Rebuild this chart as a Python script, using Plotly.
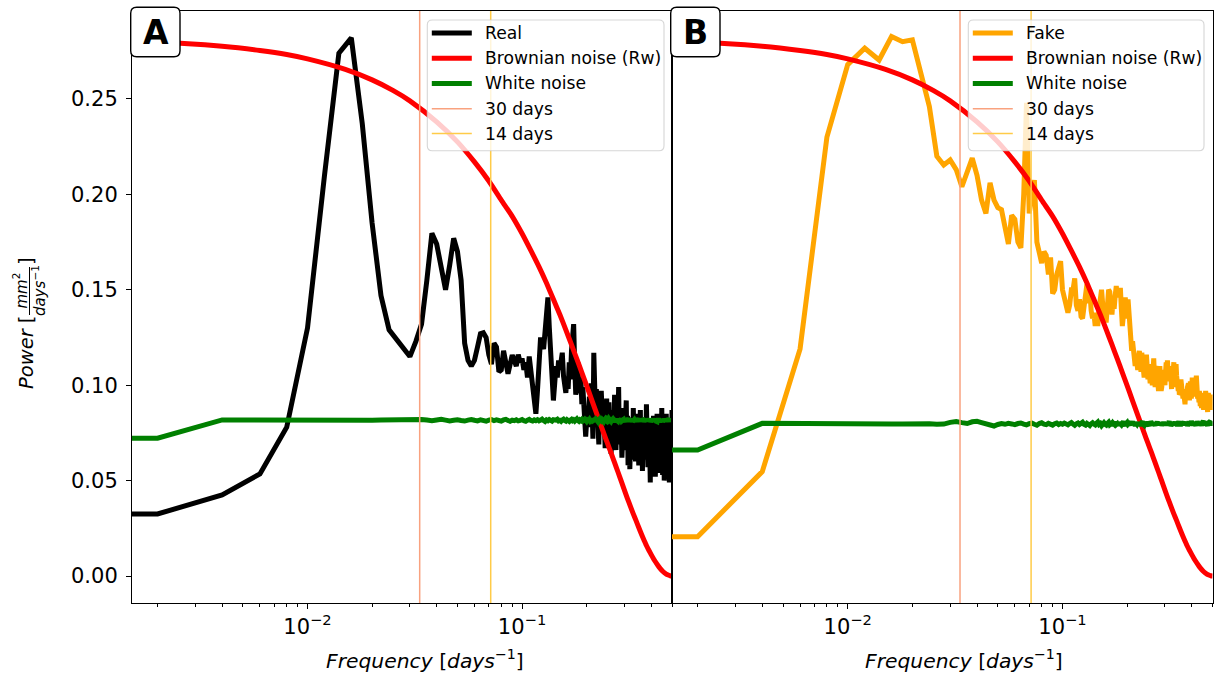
import numpy as np
import plotly.graph_objects as go

W, H = 1214, 678

# ---------------- data ----------------
df = 0.002                      # frequency resolution [1/days]
freq = np.arange(251) * df      # 0 ... 0.5

real = [
    0.0325, 0.0325, 0.0425, 0.0535, 0.0780, 0.1300, 0.2100, 0.2740, 0.2820, 0.2370,
    0.1850, 0.1470, 0.1290, 0.1240, 0.1190, 0.1150, 0.1230, 0.1320, 0.1550, 0.1796,
    0.1740, 0.1600, 0.1500, 0.1630, 0.1770, 0.1700, 0.1550, 0.1220, 0.1130, 0.1100,
    0.1130, 0.1200, 0.1270, 0.1275, 0.1250, 0.1160, 0.1110, 0.1220, 0.1200, 0.1070,
    0.1080, 0.1180, 0.1120, 0.1060, 0.1110, 0.1158, 0.1130, 0.1100, 0.1160, 0.1120,
    0.1140, 0.1080, 0.1120, 0.1040, 0.1150, 0.1070, 0.0980, 0.0900, 0.0850, 0.0970,
    0.1120, 0.1250, 0.1210, 0.1190, 0.1280, 0.1380, 0.1460, 0.1300, 0.1120, 0.0980,
    0.0920, 0.1010, 0.1100, 0.1040, 0.1130, 0.1080, 0.1140, 0.1170, 0.1050, 0.0990,
    0.0960, 0.1040, 0.0980, 0.1120, 0.1030, 0.1180, 0.1250, 0.1320, 0.1100, 0.0950,
    0.1020, 0.1120, 0.0980, 0.0960, 0.1040, 0.0900, 0.0990, 0.0850, 0.0790, 0.0730,
    0.0810, 0.0890, 0.0830, 0.0940, 0.0780, 0.1010, 0.0880, 0.0720, 0.1170, 0.0950,
    0.0840, 0.0980, 0.0790, 0.0880, 0.0690, 0.0930, 0.0800, 0.0970, 0.0860, 0.0750,
    0.0900, 0.0820, 0.0670, 0.0790, 0.0930, 0.0760, 0.0850, 0.0910, 0.0700, 0.0780,
    0.0640, 0.0720, 0.0870, 0.0680, 0.0800, 0.0950, 0.0740, 0.0660, 0.0830, 0.0900,
    0.0820, 0.0990, 0.0710, 0.0850, 0.0690, 0.0770, 0.0620, 0.0810, 0.0700, 0.0880,
    0.0660, 0.0790, 0.0730, 0.0920, 0.0680, 0.0840, 0.0580, 0.0750, 0.0800, 0.0560,
    0.0710, 0.0830, 0.0650, 0.0780, 0.0610, 0.0880, 0.0740, 0.0690, 0.0820, 0.0600,
    0.0720, 0.0850, 0.0670, 0.0760, 0.0680, 0.0580, 0.0790, 0.0710, 0.0870, 0.0620,
    0.0640, 0.0770, 0.0550, 0.0720, 0.0830, 0.0690, 0.0750, 0.0610, 0.0800, 0.0700,
    0.0900, 0.0680, 0.0780, 0.0570, 0.0740, 0.0660, 0.0810, 0.0600, 0.0490, 0.0720,
    0.0630, 0.0790, 0.0580, 0.0700, 0.0660, 0.0840, 0.0810, 0.0620, 0.0730, 0.0520,
    0.0690, 0.0770, 0.0610, 0.0850, 0.0670, 0.0540, 0.0720, 0.0800, 0.0630, 0.0750,
    0.0590, 0.0570, 0.0710, 0.0660, 0.0880, 0.0620, 0.0530, 0.0780, 0.0680, 0.0740,
    0.0500, 0.0760, 0.0640, 0.0700, 0.0820, 0.0850, 0.0610, 0.0550, 0.0730, 0.0670,
    0.0790, 0.0580, 0.0700, 0.0490, 0.0650, 0.0810, 0.0600, 0.0520, 0.0740, 0.0510,
    0.0870,
]

fake = [
    0.0206, 0.0206, 0.0547, 0.1190, 0.2300, 0.2680, 0.2766, 0.2704, 0.2827, 0.2800,
    0.2810, 0.2630, 0.2460, 0.2200, 0.2154, 0.2180, 0.2130, 0.2040, 0.2120, 0.2190,
    0.2100, 0.1970, 0.1900, 0.2060, 0.1970, 0.1930, 0.1920, 0.1830, 0.1740, 0.1890,
    0.1870, 0.1750, 0.1720, 0.2000, 0.2480, 0.1900, 0.1990, 0.2075, 0.1750, 0.1700,
    0.1640, 0.1700, 0.1680, 0.1580, 0.1670, 0.1480, 0.1500, 0.1580, 0.1620, 0.1650,
    0.1500, 0.1450, 0.1400, 0.1380, 0.1420, 0.1500, 0.1500, 0.1560, 0.1420, 0.1390,
    0.1450, 0.1360, 0.1350, 0.1420, 0.1480, 0.1530, 0.1430, 0.1500, 0.1390, 0.1350,
    0.1380, 0.1310, 0.1370, 0.1310, 0.1400, 0.1480, 0.1500, 0.1420, 0.1360, 0.1340,
    0.1340, 0.1460, 0.1500, 0.1490, 0.1410, 0.1370, 0.1450, 0.1400, 0.1470, 0.1520,
    0.1460, 0.1500, 0.1480, 0.1510, 0.1400, 0.1310, 0.1360, 0.1400, 0.1460, 0.1400,
    0.1350, 0.1450, 0.1380, 0.1280, 0.1200, 0.1180, 0.1230, 0.1180, 0.1130, 0.1100,
    0.1160, 0.1120, 0.1080, 0.1150, 0.1180, 0.1120, 0.1070, 0.1170, 0.1130, 0.1080,
    0.1040, 0.1120, 0.1060, 0.1160, 0.1090, 0.1030, 0.1110, 0.1070, 0.1010, 0.1090,
    0.1040, 0.1000, 0.1080, 0.1140, 0.1050, 0.0990, 0.1100, 0.1030, 0.1070, 0.1010,
    0.0970, 0.1040, 0.1100, 0.1020, 0.0970, 0.0990, 0.1060, 0.1010, 0.1080, 0.1030,
    0.1000, 0.1070, 0.1120, 0.1050, 0.1130, 0.1080, 0.1020, 0.1100, 0.1040, 0.1090,
    0.1030, 0.0980, 0.1060, 0.1010, 0.1080, 0.1120, 0.1040, 0.0990, 0.1070, 0.1110,
    0.1050, 0.1000, 0.1040, 0.0970, 0.1020, 0.0950, 0.1010, 0.0960, 0.1030, 0.0980,
    0.0940, 0.0990, 0.0930, 0.0970, 0.0910, 0.0950, 0.0900, 0.0960, 0.0920, 0.0980,
    0.0940, 0.0990, 0.0950, 0.1010, 0.0960, 0.0920, 0.0980, 0.1020, 0.0970, 0.0930,
    0.1000, 0.1040, 0.0980, 0.0940, 0.1010, 0.0970, 0.1030, 0.0990, 0.0950, 0.1020,
    0.1050, 0.1000, 0.0960, 0.0930, 0.0990, 0.0940, 0.0910, 0.0970, 0.0930, 0.0890,
    0.0950, 0.0920, 0.0880, 0.0940, 0.0900, 0.0960, 0.0920, 0.0870, 0.0930, 0.0950,
    0.0890, 0.0910, 0.0970, 0.0930, 0.0880, 0.0940, 0.0900, 0.0860, 0.0920, 0.0960,
    0.0910, 0.0880, 0.0940, 0.0890, 0.0930, 0.0870, 0.0910, 0.0950, 0.0890, 0.0920,
    0.0880,
]

white_a = [
    0.0722, 0.0722, 0.0818, 0.0816, 0.0815, 0.0816, 0.0816, 0.0817, 0.0816, 0.0815,
    0.0816, 0.0817, 0.0818, 0.0816, 0.0815, 0.0819, 0.0823, 0.0820, 0.0817, 0.0814,
    0.0818, 0.0821, 0.0817, 0.0813, 0.0816, 0.0819, 0.0815, 0.0812, 0.0817, 0.0820,
    0.0816, 0.0813, 0.0818, 0.0815, 0.0811, 0.0817, 0.0820, 0.0814, 0.0818, 0.0815,
    0.0812, 0.0818, 0.0821, 0.0815, 0.0811, 0.0817, 0.0814, 0.0819, 0.0813, 0.0816,
    0.0820, 0.0814, 0.0811, 0.0817, 0.0821, 0.0815, 0.0812, 0.0818, 0.0814, 0.0819,
    0.0813, 0.0817, 0.0822, 0.0815, 0.0810, 0.0818, 0.0814, 0.0820, 0.0816, 0.0812,
    0.0819, 0.0814, 0.0817, 0.0821, 0.0813, 0.0816, 0.0811, 0.0818, 0.0822, 0.0815,
    0.0812, 0.0819, 0.0815, 0.0810, 0.0817, 0.0821, 0.0814, 0.0818, 0.0812, 0.0816,
    0.0823, 0.0815, 0.0811, 0.0818, 0.0814, 0.0820, 0.0813, 0.0817, 0.0822, 0.0814,
    0.0810, 0.0818, 0.0815, 0.0821, 0.0812, 0.0817, 0.0824, 0.0813, 0.0816, 0.0820,
    0.0811, 0.0819, 0.0814, 0.0808, 0.0818, 0.0823, 0.0815, 0.0812, 0.0819, 0.0816,
    0.0809, 0.0817, 0.0822, 0.0814, 0.0811, 0.0820, 0.0816, 0.0825, 0.0813, 0.0818,
    0.0810, 0.0817, 0.0821, 0.0812, 0.0819, 0.0815, 0.0808, 0.0818, 0.0823, 0.0814,
    0.0811, 0.0820, 0.0816, 0.0809, 0.0818, 0.0824, 0.0813, 0.0817, 0.0811, 0.0821,
    0.0815, 0.0808, 0.0819, 0.0823, 0.0812, 0.0818, 0.0814, 0.0826, 0.0810, 0.0817,
    0.0821, 0.0811, 0.0816, 0.0824, 0.0809, 0.0818, 0.0813, 0.0820, 0.0815, 0.0807,
    0.0819, 0.0823, 0.0812, 0.0817, 0.0810, 0.0825, 0.0814, 0.0818, 0.0809, 0.0821,
    0.0816, 0.0811, 0.0824, 0.0813, 0.0819, 0.0808, 0.0817, 0.0822, 0.0812, 0.0818,
    0.0810, 0.0826, 0.0815, 0.0809, 0.0820, 0.0814, 0.0823, 0.0811, 0.0817, 0.0807,
    0.0821, 0.0816, 0.0825, 0.0810, 0.0818, 0.0813, 0.0822, 0.0808, 0.0819, 0.0815,
    0.0824, 0.0811, 0.0817, 0.0809, 0.0821, 0.0814, 0.0827, 0.0812, 0.0818, 0.0806,
    0.0820, 0.0815, 0.0823, 0.0810, 0.0817, 0.0825, 0.0808, 0.0819, 0.0813, 0.0821,
    0.0811, 0.0826, 0.0816, 0.0809, 0.0822, 0.0814, 0.0818, 0.0807, 0.0824, 0.0812,
    0.0819, 0.0810, 0.0823, 0.0815, 0.0808, 0.0821, 0.0816, 0.0826, 0.0811, 0.0818,
    0.0814,
]

white_b = [
    0.0660, 0.0660, 0.0800, 0.0797, 0.0796, 0.0797, 0.0798, 0.0797, 0.0796, 0.0797,
    0.0799, 0.0801, 0.0798, 0.0795, 0.0796, 0.0805, 0.0810, 0.0804, 0.0799, 0.0808,
    0.0811, 0.0804, 0.0797, 0.0790, 0.0786, 0.0794, 0.0799, 0.0795, 0.0800, 0.0797,
    0.0793, 0.0799, 0.0802, 0.0796, 0.0792, 0.0798, 0.0801, 0.0795, 0.0790, 0.0799,
    0.0803, 0.0796, 0.0793, 0.0800, 0.0797, 0.0791, 0.0798, 0.0802, 0.0794, 0.0799,
    0.0795, 0.0801, 0.0797, 0.0792, 0.0799, 0.0804, 0.0796, 0.0790, 0.0798, 0.0802,
    0.0794, 0.0799, 0.0806, 0.0795, 0.0791, 0.0800, 0.0797, 0.0789, 0.0798, 0.0803,
    0.0796, 0.0792, 0.0801, 0.0807, 0.0794, 0.0799, 0.0788, 0.0797, 0.0803, 0.0795,
    0.0791, 0.0800, 0.0806, 0.0793, 0.0798, 0.0789, 0.0802, 0.0796, 0.0808, 0.0794,
    0.0799, 0.0790, 0.0804, 0.0797, 0.0792, 0.0801, 0.0809, 0.0795, 0.0788, 0.0800,
    0.0805, 0.0794, 0.0798, 0.0791, 0.0803, 0.0797, 0.0810, 0.0793, 0.0799, 0.0787,
    0.0802, 0.0796, 0.0806, 0.0792, 0.0799, 0.0789, 0.0804, 0.0797, 0.0811, 0.0794,
    0.0790, 0.0801, 0.0795, 0.0807, 0.0793, 0.0799, 0.0786, 0.0803, 0.0797, 0.0809,
    0.0794, 0.0800, 0.0791, 0.0805, 0.0798, 0.0788, 0.0802, 0.0796, 0.0810, 0.0792,
    0.0799, 0.0806, 0.0790, 0.0797, 0.0803, 0.0787, 0.0800, 0.0794, 0.0808, 0.0796,
    0.0791, 0.0804, 0.0798, 0.0789, 0.0806, 0.0795, 0.0801, 0.0812, 0.0793, 0.0799,
    0.0786, 0.0803, 0.0797, 0.0807, 0.0792, 0.0800, 0.0790, 0.0805, 0.0796, 0.0809,
    0.0794, 0.0788, 0.0802, 0.0798, 0.0811, 0.0793, 0.0799, 0.0787, 0.0804, 0.0797,
    0.0806, 0.0791, 0.0800, 0.0795, 0.0809, 0.0789, 0.0803, 0.0797, 0.0792, 0.0807,
    0.0798, 0.0786, 0.0802, 0.0794, 0.0810, 0.0796, 0.0790, 0.0805, 0.0799, 0.0813,
    0.0793, 0.0801, 0.0788, 0.0806, 0.0797, 0.0791, 0.0808, 0.0795, 0.0802, 0.0787,
    0.0804, 0.0798, 0.0811, 0.0792, 0.0800, 0.0789, 0.0806, 0.0796, 0.0803, 0.0790,
    0.0809, 0.0795, 0.0801, 0.0787, 0.0805, 0.0798, 0.0812, 0.0793, 0.0799, 0.0791,
    0.0806, 0.0797, 0.0789, 0.0803, 0.0810, 0.0794, 0.0800, 0.0786, 0.0807, 0.0796,
    0.0802, 0.0790, 0.0808, 0.0795, 0.0811, 0.0792, 0.0799, 0.0805, 0.0788, 0.0803,
    0.0797,
]

brown_f = [0.0, 0.002, 0.004, 0.006, 0.008, 0.010, 0.015, 0.020, 0.025, 0.030,
           0.040, 0.050, 0.060, 0.070, 0.080, 0.090, 0.100, 0.110, 0.120, 0.130,
           0.140, 0.150, 0.160, 0.170, 0.180, 0.190, 0.200, 0.210, 0.220, 0.230,
           0.240, 0.250, 0.260, 0.270, 0.280, 0.290, 0.300, 0.310, 0.320, 0.330,
           0.340, 0.350, 0.360, 0.370, 0.380, 0.390, 0.400, 0.410, 0.420, 0.430,
           0.440, 0.450, 0.460, 0.470, 0.480, 0.490, 0.500]
brown_p = [0.2820, 0.2797, 0.2776, 0.2754, 0.2733, 0.2710, 0.2655, 0.2600, 0.2545, 0.2490,
           0.2380, 0.2275, 0.2170, 0.2070, 0.1970, 0.1885, 0.1795, 0.1705, 0.1620, 0.1535,
           0.1450, 0.1370, 0.1290, 0.1212, 0.1138, 0.1066, 0.0998, 0.0931, 0.0868, 0.0808,
           0.0750, 0.0696, 0.0645, 0.0594, 0.0545, 0.0497, 0.0450, 0.0406, 0.0365, 0.0326,
           0.0290, 0.0254, 0.0220, 0.0189, 0.0160, 0.0135, 0.0112, 0.0091, 0.0072, 0.0055,
           0.0040, 0.0028, 0.0018, 0.0010, 0.0005, 0.0001, 0.0000]

period_days = [30, 14]
period_names = ["30 days", "14 days"]
period_colors = ["#F9A27F", "#FFCB48"]

y_ticks = [0.00, 0.05, 0.10, 0.15, 0.20, 0.25]
y_tick_text = ["0.00", "0.05", "0.10", "0.15", "0.20", "0.25"]
x_ticks = [0.01, 0.1]
x_tick_text = ["10<sup>\u22122</sup>", "10<sup>\u22121</sup>"]
x_minor = [0.002, 0.003, 0.004, 0.005, 0.006, 0.007, 0.008, 0.009,
           0.02, 0.03, 0.04, 0.05, 0.06, 0.07, 0.08, 0.09,
           0.2, 0.3, 0.4, 0.5]

# ---------------- geometry ----------------
XR = [np.log10(0.00152), np.log10(0.5)]
YR = [-0.01415, 0.2961]
PX_L, PX_M, PX_R = 132, 672, 1212.6
PY_T, PY_B = 11, 603
dom_y = [1 - PY_B / H, 1 - PY_T / H]

FONT = "DejaVu Sans"
TICK_SIZE = 21


def clip_log(f):
    f = np.asarray(f, dtype=float)
    return np.where(f > 0, f, 1e-12)   # like matplotlib's log clipping of f=0


fig = go.Figure()

panels = [
    dict(xa="x", ya="y", series=real, name="Real", color="black", white=white_a),
    dict(xa="x2", ya="y2", series=fake, name="Fake", color="#FFA500", white=white_b),
]

for p in panels:
    fig.add_trace(go.Scatter(x=clip_log(freq), y=p["series"], mode="lines", name=p["name"],
                             line=dict(color=p["color"], width=5), xaxis=p["xa"], yaxis=p["ya"]))
    fig.add_trace(go.Scatter(x=clip_log(brown_f), y=brown_p, mode="lines", name="Brownian noise (Rw)",
                             line=dict(color="#FF0000", width=5, shape="spline", smoothing=0.6),
                             xaxis=p["xa"], yaxis=p["ya"]))
    fig.add_trace(go.Scatter(x=clip_log(freq), y=p["white"], mode="lines", name="White noise",
                             line=dict(color="#008000", width=5), xaxis=p["xa"], yaxis=p["ya"]))
    for d, nm, c in zip(period_days, period_names, period_colors):
        fig.add_trace(go.Scatter(x=[1.0 / d, 1.0 / d], y=YR, mode="lines", name=nm,
                                 line=dict(color=c, width=1.5), xaxis=p["xa"], yaxis=p["ya"]))

axis_common = dict(
    type="log", range=XR, showline=True, mirror=True, linecolor="black", linewidth=1.1,
    ticks="outside", ticklen=5, tickwidth=1.1, tickcolor="black",
    tickmode="array", tickvals=x_ticks, ticktext=x_tick_text,
    tickfont=dict(family=FONT, size=TICK_SIZE, color="black"),
    minor=dict(tickmode="array", tickvals=x_minor, ticks="outside", ticklen=3,
               tickwidth=0.9, tickcolor="black", showgrid=False),
    showgrid=False, zeroline=False,
)
yaxis_common = dict(
    range=YR, domain=dom_y, showline=True, mirror=True, linecolor="black", linewidth=1.1,
    showgrid=False, zeroline=False,
)

fig.update_layout(
    width=W, height=H, margin=dict(l=0, r=0, t=0, b=0),
    paper_bgcolor="white", plot_bgcolor="white", showlegend=False,
    font=dict(family=FONT, color="black"),
    xaxis=dict(domain=[PX_L / W, PX_M / W], anchor="y", **axis_common),
    xaxis2=dict(domain=[PX_M / W, PX_R / W], anchor="y2", **axis_common),
    yaxis=dict(anchor="x", ticks="outside", ticklen=5, tickwidth=1.1, tickcolor="black",
               tickmode="array", tickvals=y_ticks, ticktext=y_tick_text, ticklabelstandoff=4,
               tickfont=dict(family=FONT, size=TICK_SIZE, color="black"), **yaxis_common),
    yaxis2=dict(anchor="x2", matches="y", showticklabels=False, ticks="", **yaxis_common),
)


def P(x, y):
    return x / W, 1 - y / H


def rrect(x0, y0, x1, y1, r):
    rx, ry = r / W, r / H
    X0, Y0 = P(x0, y0)
    X1, Y1 = P(x1, y1)
    return (f"M {X0+rx},{Y0} L {X1-rx},{Y0} Q {X1},{Y0} {X1},{Y0-ry} "
            f"L {X1},{Y1+ry} Q {X1},{Y1} {X1-rx},{Y1} L {X0+rx},{Y1} "
            f"Q {X0},{Y1} {X0},{Y1+ry} L {X0},{Y0-ry} Q {X0},{Y0} {X0+rx},{Y0} Z")


shapes = []
annotations = []

# legends
legend_boxes = [
    (427.3, 664.0, ["Real", "Brownian noise (Rw)", "White noise", "30 days", "14 days"],
     ["black", "#FF0000", "#008000"] + period_colors),
    (968.3, 1204.0, ["Fake", "Brownian noise (Rw)", "White noise", "30 days", "14 days"],
     ["#FFA500", "#FF0000", "#008000"] + period_colors),
]
row_y = [33.0, 58.3, 83.5, 108.7, 133.5]
for lx0, lx1, labels, cols in legend_boxes:
    shapes.append(dict(type="path", xref="paper", yref="paper", path=rrect(lx0, 20, lx1, 150.7, 5),
                       fillcolor="rgba(255,255,255,0.8)", line=dict(color="rgba(204,204,204,0.8)", width=1.1),
                       layer="above"))
    for i, (lab, col) in enumerate(zip(labels, cols)):
        wdt = 5 if i < 3 else 1.5
        hx0, hy = P(lx0 + 4.5, row_y[i])
        hx1, _ = P(lx0 + 44.5, row_y[i])
        shapes.append(dict(type="line", xref="paper", yref="paper", x0=hx0, x1=hx1, y0=hy, y1=hy,
                           line=dict(color=col, width=wdt), layer="above"))
        tx, ty = P(lx0 + 55.3, row_y[i])
        annotations.append(dict(xref="paper", yref="paper", x=tx, y=ty, text=lab, showarrow=False,
                                xanchor="left", yanchor="middle",
                                font=dict(family=FONT, size=17.2, color="black")))

# panel letters
for letter, bx0 in [("A", 130.7), ("B", 670.7)]:
    shapes.append(dict(type="path", xref="paper", yref="paper", path=rrect(bx0, 7.3, bx0 + 49.3, 56.7, 6),
                       fillcolor="white", line=dict(color="black", width=1.4), layer="above"))
    cx, cy = P(bx0 + 24.8, 33)
    annotations.append(dict(xref="paper", yref="paper", x=cx, y=cy, text=f"<b>{letter}</b>",
                            showarrow=False, xanchor="center", yanchor="middle",
                            font=dict(family=FONT, size=33, color="black")))

# x labels
for cxp in [425, 963.5]:
    cx, cy = P(cxp, 659)
    annotations.append(dict(xref="paper", yref="paper", x=cx, y=cy,
                            text="<i>Frequency</i> [<i>days</i><sup>\u22121</sup>]",
                            showarrow=False, xanchor="center", yanchor="middle",
                            font=dict(family=FONT, size=20.3, color="black")))

# y label: Power [ mm^2 / days^-1 ]
for txt, (xx, yy), sz in [
    ("<i>Power</i> [", (26, 353), 19.5),
    ("<i>mm</i><sup>2</sup>", (20.5, 291), 15),
    ("<i>days</i><sup>\u22121</sup>", (39, 291), 15),
    ("]", (26, 261), 19.5),
]:
    ax_, ay_ = P(xx, yy)
    annotations.append(dict(xref="paper", yref="paper", x=ax_, y=ay_, text=txt, textangle=-90,
                            showarrow=False, xanchor="center", yanchor="middle",
                            font=dict(family=FONT, size=sz, color="black")))
fx, fy0 = P(29.5, 267)
_, fy1 = P(29.5, 315)
shapes.append(dict(type="line", xref="paper", yref="paper", x0=fx, x1=fx, y0=fy0, y1=fy1,
                   line=dict(color="black", width=1)))

fig.update_layout(shapes=shapes, annotations=annotations)
fig.write_html("out.html")
